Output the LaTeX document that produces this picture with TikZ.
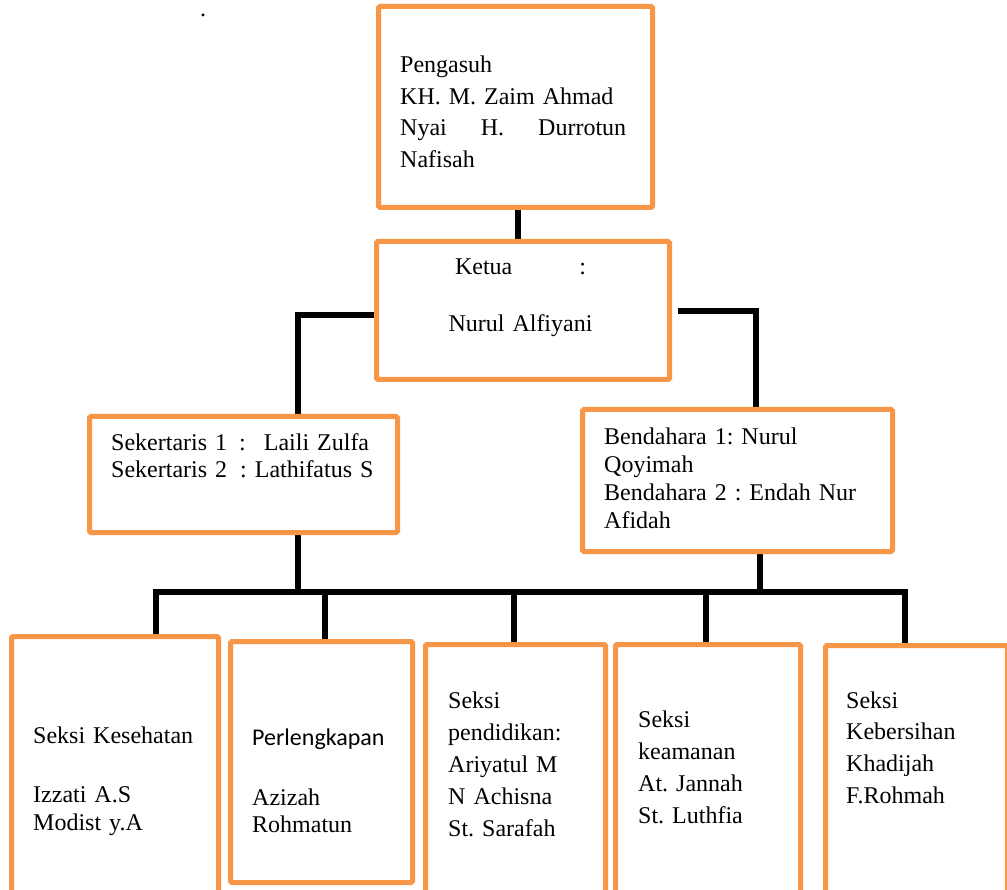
\documentclass[tikz,border=0pt]{standalone}
\usepackage{fontspec}
\setmainfont{Liberation Serif}
\newfontfamily\calibrifont{Carlito}
\definecolor{boxorange}{RGB}{247,150,70}
\begin{document}
\frenchspacing
\begin{tikzpicture}[x=1pt,y=-1pt,
  box/.style={draw=boxorange, line width=5pt, fill=white, inner sep=0pt, rectangle, rounded corners=1.5pt},
  conn/.style={draw=black, line width=6pt, line join=miter},
  txt/.style={inner sep=0pt, anchor=base west, align=left},
  fs/.style={font=\fontsize{24}{#1}\selectfont\frenchspacing},
]
\useasboundingbox (0,0) rectangle (1007,890);
\clip (0,0) rectangle (1007,890);
\fill[white] (0,0) rectangle (1007,890);

% coordinate of the bus line
\coordinate (bus) at (0,592);

% boxes (named nodes, for anchors)
\path
  node[box, minimum width=269pt, minimum height=196pt, anchor=north west] (top) at (378.5,6.5) {}
  node[box, minimum width=288pt, minimum height=133pt, anchor=north west] (ketua) at (376.5,241.5) {}
  node[box, minimum width=303pt, minimum height=111pt, anchor=north west] (sek) at (89.5,416.5) {}
  node[box, minimum width=305pt, minimum height=137pt, anchor=north west] (ben) at (582.5,409.5) {}
  node[box, minimum width=202pt, minimum height=280pt, anchor=north west] (b1) at (11.5,636.5) {}
  node[box, minimum width=177pt, minimum height=236pt, anchor=north west] (b2) at (230.5,641.5) {}
  node[box, minimum width=175pt, minimum height=280pt, anchor=north west] (b3) at (425.5,644.5) {}
  node[box, minimum width=180pt, minimum height=280pt, anchor=north west] (b4) at (615.5,644.5) {}
  node[box, minimum width=177pt, minimum height=280pt, anchor=north west] (b5) at (825.5,645.5) {};

% connectors
\draw[conn] ([xshift=2pt]top.south) -- ([xshift=2pt]top.south |- ketua.north);
\draw[conn] ([yshift=-5pt]ketua.west) -| ([xshift=54pt]sek.north);
\draw[conn] ([xshift=8pt,yshift=-1pt]ketua.east) -| ([xshift=18pt]ben.north);
\draw[conn] ([xshift=54pt]sek.south) -- ([xshift=54pt]sek.south |- bus);
\draw[conn] ([xshift=22pt]ben.south) -- ([xshift=22pt]ben.south |- bus);
\draw[conn] ([xshift=40.5pt]b1.north) |- ([xshift=-12pt]b5.north |- bus) -- ([xshift=-12pt]b5.north);
\draw[conn] ([xshift=3pt]b2.north) -- ([xshift=3pt]b2.north |- bus);
\draw[conn] ([xshift=-2pt]b3.north) -- ([xshift=-2pt]b3.north |- bus);
\draw[conn] ([xshift=-2.5pt]b4.north) -- ([xshift=-2.5pt]b4.north |- bus);

% redraw boxes on top of connector ends
\foreach \n in {top,ketua,sek,ben,b1,b2,b3,b4,b5}{
  \draw[draw=boxorange, line width=5pt, fill=white, rounded corners=1.5pt] (\n.north west) rectangle (\n.south east);
}

% texts
\node[txt, text width=226pt, fs=31.5] (tpeng) at (400,73)
  {Pengasuh\\KH. M. Zaim Ahmad\\\makebox[226pt][s]{Nyai\hfill H.\hfill Durrotun}\\Nafisah};
\node[inner sep=0pt, anchor=base, align=center, text width=220pt, fs=32] (tket) at (520.5,275)
  {Ketua\hspace*{67pt}:\\[25pt]Nurul Alfiyani};
\node[txt, text width=290pt, fs=28] (tsek) at (111,450)
  {Sekertaris 1\hspace{12pt}:\hspace{18pt}Laili Zulfa\\Sekertaris 2\hspace{13pt}: Lathifatus S};
\node[txt, text width=280pt, fs=27.7] (tben) at (604,445)
  {Bendahara 1: Nurul\\Qoyimah\\Bendahara 2 : Endah Nur\\Afidah};
\node[txt, text width=180pt, fs=28] (t1) at (33,743)
  {Seksi Kesehatan\\[31pt]Izzati A.S\\Modist y.A};
\node[txt, text width=150pt, fs=27] (t2) at (252,745)
  {{\calibrifont Perlengkapan}\\[33pt]Azizah\\Rohmatun};
\node[txt, text width=150pt, fs=32] (t3) at (448,708)
  {Seksi\\pendidikan:\\Ariyatul M\\N Achisna\\St. Sarafah};
\node[txt, text width=150pt, fs=32.3] (t4) at (638,727)
  {Seksi\\keamanan\\At. Jannah\\St. Luthfia};
\node[txt, text width=150pt, fs=31.7] (t5) at (846,708)
  {Seksi\\Kebersihan\\Khadijah\\F.Rohmah};
\node[inner sep=0pt, anchor=base, fs=32] (dot) at (203,17) {.};
\end{tikzpicture}
\end{document}
